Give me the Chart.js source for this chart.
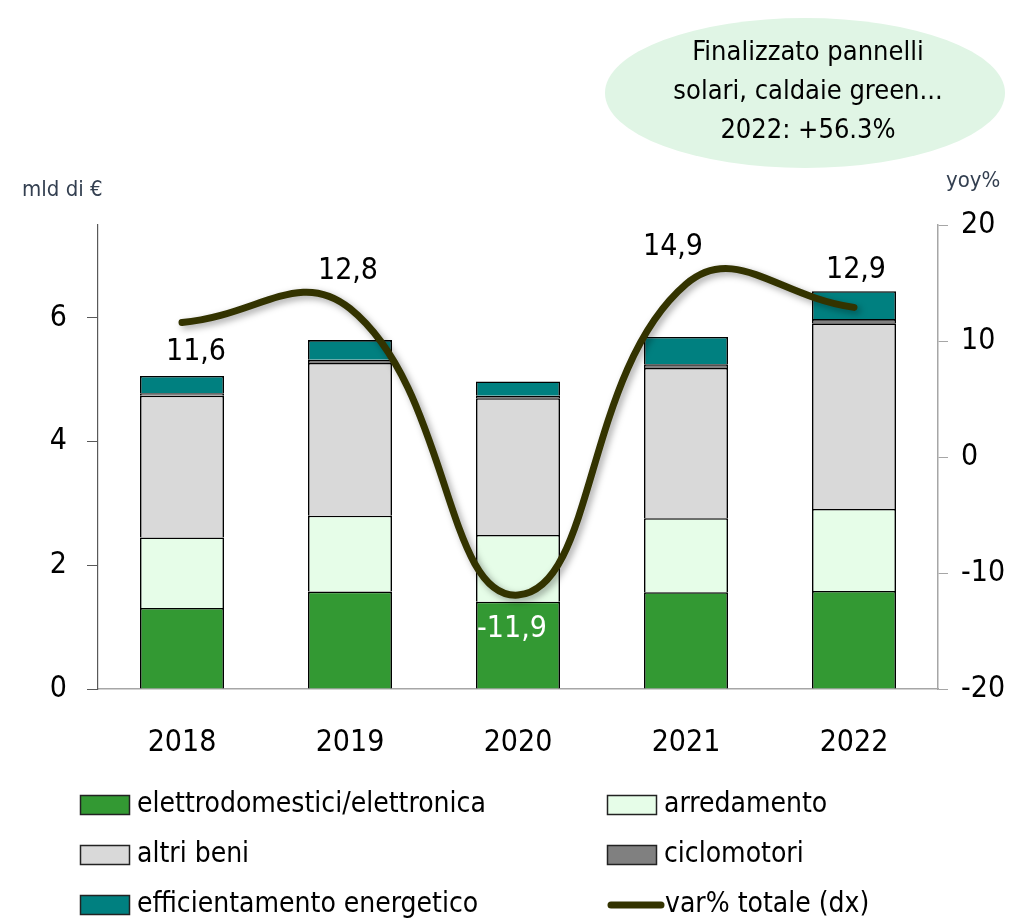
<!DOCTYPE html>
<html>
<head>
<meta charset="utf-8">
<script src="https://cdn.jsdelivr.net/npm/chart.js@4/dist/chart.umd.min.js"></script>
<style>
html,body{margin:0;padding:0;background:#fff;}
canvas{display:block;}
</style>
</head>
<body>
<canvas id="c" width="1018" height="922"></canvas>
<script>
const years = ['2018','2019','2020','2021','2022'];
const elettrodomestici = [1.31, 1.575, 1.41, 1.565, 1.585];
const arredamento = [1.14, 1.225, 1.08, 1.195, 1.325];
const altriBeni = [2.29, 2.47, 2.21, 2.43, 3.00];
const ciclomotori = [0.04, 0.05, 0.04, 0.06, 0.07];
const efficientamento = [0.28, 0.32, 0.23, 0.44, 0.45];
const varTotale = [11.6, 12.8, -11.9, 14.9, 12.9];
const leftTicks = [0, 2, 4, 6];
const rightTicks = [-20, -10, 0, 10, 20];
const noteLines = ['Finalizzato pannelli', 'solari, caldaie green...', '2022: +56.3%'];

const FONT = '"Liberation Sans Narrow", "DejaVu Sans Condensed", "Roboto", sans-serif';
const W = 1018, H = 922;
const AREA = {left: 98, right: 938, top: 225, bottom: 689};

const labelOffsets = [[14, 30], [-2, -37], [-6, 34], [-13, -37], [2, -37]];

const extras = {
  id: 'extras',
  beforeDraw(chart) {
    const ctx = chart.ctx;
    ctx.save();
    ctx.fillStyle = '#fff';
    ctx.fillRect(0, 0, W, H);
    // annotation ellipse
    ctx.fillStyle = '#E0F5E5';
    ctx.beginPath();
    ctx.ellipse(805, 93, 200, 75, 0, 0, Math.PI * 2);
    ctx.fill();
    ctx.fillStyle = '#000';
    ctx.font = '27px ' + FONT;
    ctx.textAlign = 'center';
    ctx.textBaseline = 'middle';
    noteLines.forEach((t, i) => ctx.fillText(t, 808, 53 + i * 39));
    // axis titles
    ctx.fillStyle = '#333F50';
    ctx.font = '22px ' + FONT;
    ctx.textAlign = 'left';
    ctx.fillText('mld di \u20AC', 22, 190);
    ctx.fillText('yoy%', 946, 181);
    ctx.restore();
  },
  beforeDatasetDraw(chart, args) {
    if (chart.data.datasets[args.index].type === 'line') {
      const ctx = chart.ctx;
      ctx.save();
      ctx.shadowColor = 'rgba(0,0,0,0.35)';
      ctx.shadowBlur = 7;
      ctx.shadowOffsetX = 3;
      ctx.shadowOffsetY = 3;
    }
  },
  afterDatasetDraw(chart, args) {
    if (chart.data.datasets[args.index].type === 'line') {
      chart.ctx.restore();
    }
  },
  afterDraw(chart) {
    const ctx = chart.ctx;
    ctx.save();
    // line data labels
    const li = chart.data.datasets.findIndex(d => d.type === 'line');
    const meta = chart.getDatasetMeta(li);
    ctx.font = '30px ' + FONT;
    ctx.textAlign = 'center';
    ctx.textBaseline = 'middle';
    meta.data.forEach((pt, i) => {
      const v = chart.data.datasets[li].data[i];
      ctx.fillStyle = v < 0 ? '#fff' : '#000';
      ctx.fillText(v.toFixed(1).replace('.', ','), pt.x + labelOffsets[i][0], pt.y + labelOffsets[i][1]);
    });
    // legend
    const cols = [80, 607], rows = [805, 855, 905];
    ctx.font = '28px ' + FONT;
    ctx.textAlign = 'left';
    chart.data.datasets.forEach((ds, i) => {
      const x = cols[i % 2], y = rows[Math.floor(i / 2)];
      if (ds.type === 'line') {
        ctx.strokeStyle = ds.borderColor;
        ctx.lineWidth = 7;
        ctx.lineCap = 'round';
        ctx.beginPath();
        ctx.moveTo(x + 4, y);
        ctx.lineTo(x + 54, y);
        ctx.stroke();
        ctx.fillStyle = '#000';
        ctx.fillText(ds.label, x + 58, y);
      } else {
        ctx.fillStyle = ds.backgroundColor;
        ctx.fillRect(x, y - 10, 50, 20);
        ctx.strokeStyle = '#222';
        ctx.lineWidth = 1.5;
        ctx.strokeRect(x + 0.5, y - 9.5, 49, 19);
        ctx.fillStyle = '#000';
        ctx.fillText(ds.label, x + 57, y);
      }
    });
    ctx.restore();
  }
};

function barSet(label, data, color) {
  return {
    type: 'bar', label, data, backgroundColor: color,
    borderColor: '#000', borderWidth: 1.6, yAxisID: 'y', order: 1,
    barPercentage: 0.5, categoryPercentage: 1.0
  };
}

new Chart(document.getElementById('c'), {
  data: {
    labels: years,
    datasets: [
      barSet('elettrodomestici/elettronica', elettrodomestici, '#339933'),
      barSet('arredamento', arredamento, '#E6FDE8'),
      barSet('altri beni', altriBeni, '#D9D9D9'),
      barSet('ciclomotori', ciclomotori, '#808080'),
      barSet('efficientamento energetico', efficientamento, '#008080'),
      {
        type: 'line', label: 'var% totale (dx)', data: varTotale, yAxisID: 'y1', order: 0,
        borderColor: '#333300', borderWidth: 7, tension: 0.45, pointRadius: 0,
        borderCapStyle: 'round', borderJoinStyle: 'round', fill: false
      }
    ]
  },
  options: {
    responsive: false,
    animation: false,
    events: [],
    layout: {padding: {left: 0, right: 0, top: AREA.top, bottom: 0}},
    plugins: {legend: {display: false}, tooltip: {enabled: false}},
    scales: {
      x: {
        stacked: true,
        grid: {display: false},
        border: {display: true, color: '#A6A6A6', width: 1.5},
        ticks: {color: '#000', font: {family: FONT, size: 30}, padding: 28},
        afterFit(s) { s.height = H - AREA.bottom; }
      },
      y: {
        stacked: true, position: 'left', min: 0, max: 7.5,
        afterBuildTicks(s) { s.ticks = leftTicks.map(v => ({value: v})); },
        grid: {drawOnChartArea: false, drawTicks: true, tickLength: 11, color: '#595959'},
        border: {display: true, color: '#595959', width: 1.2},
        ticks: {color: '#000', font: {family: FONT, size: 30}, padding: 20},
        afterFit(s) { s.width = AREA.left; }
      },
      y1: {
        position: 'right', min: -20, max: 20,
        afterBuildTicks(s) { s.ticks = rightTicks.map(v => ({value: v})); },
        grid: {drawOnChartArea: false, drawTicks: true, tickLength: 10, color: '#A6A6A6'},
        border: {display: true, color: '#A6A6A6', width: 1.5},
        ticks: {color: '#000', font: {family: FONT, size: 30}, padding: 13},
        afterFit(s) { s.width = W - AREA.right; }
      }
    }
  },
  plugins: [extras]
});
</script>
</body>
</html>
